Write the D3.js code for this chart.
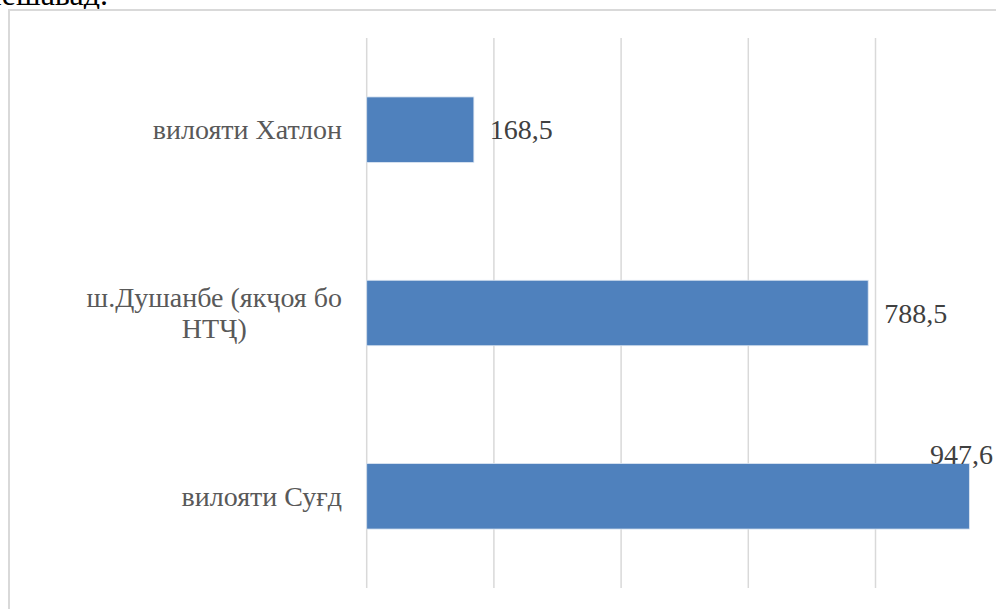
<!DOCTYPE html>
<html>
<head>
<meta charset="utf-8">
<script src="https://cdn.jsdelivr.net/npm/d3@7"></script>
<style>
  body { margin: 0; background: #fff; }
  svg { display: block; }
</style>
</head>
<body>
<div id="canvas"></div>
<script>
// data
const categories = ["вилояти Хатлон", "ш.Душанбе (якҷоя бо НТҶ)", "вилояти Суғд"];
const categoryLines = [["вилояти Хатлон"], ["ш.Душанбе (якҷоя бо", "НТҶ)"], ["вилояти Суғд"]];
const values = [168.5, 788.5, 947.6];
const valueLabels = ["168,5", "788,5", "947,6"];
const gridTicks = [0, 200, 400, 600, 800, 1000];

const svgWidth = 996;
const svgHeight = 609;
const serif = "'Times New Roman', 'Liberation Serif', 'DejaVu Serif', serif";

const svg = d3.select("#canvas").append("svg")
    .attr("width", svgWidth)
    .attr("height", svgHeight)
    .attr("font-family", serif);

// cut-off text of the page above the chart
svg.append("text")
    .attr("x", 108)
    .attr("y", 5)
    .attr("text-anchor", "end")
    .attr("font-size", 32)
    .attr("fill", "#000")
    .text("мешавад.");

// chart frame
svg.append("rect")
    .attr("x", 9)
    .attr("y", 10)
    .attr("width", 1100)
    .attr("height", 700)
    .attr("fill", "none")
    .attr("stroke", "#d9d9d9")
    .attr("stroke-width", 2);

const x = d3.scaleLinear().domain([0, 1000]).range([366.7, 1002.7]);
const y = d3.scaleBand()
    .domain(categories)
    .range([38, 588])
    .paddingInner(0.643)
    .paddingOuter(0.3215);

// gridlines
svg.append("g").selectAll("line")
    .data(gridTicks)
    .enter()
    .append("line")
    .attr("x1", d => x(d))
    .attr("x2", d => x(d))
    .attr("y1", 38)
    .attr("y2", 588)
    .attr("stroke", "#d9d9d9")
    .attr("stroke-width", 1.5);

// bars
svg.append("g").selectAll("rect")
    .data(values)
    .enter()
    .append("rect")
    .attr("x", x(0))
    .attr("y", (d, i) => y(categories[i]))
    .attr("width", d => x(d) - x(0))
    .attr("height", y.bandwidth())
    .attr("fill", "#4f81bd")
    .attr("stroke", "#dbe5f1")
    .attr("stroke-width", 0.8);

// value labels
svg.append("g").selectAll("text")
    .data(values)
    .enter()
    .append("text")
    .attr("font-size", 28)
    .attr("fill", "#404040")
    .text((d, i) => valueLabels[i])
    .each(function(d, i) {
        const t = d3.select(this);
        const w = this.getComputedTextLength();
        const mid = y(categories[i]) + y.bandwidth() / 2;
        if (x(d) + 16 + w > svgWidth) {
            // no room: pushed up over the bar end
            t.attr("x", svgWidth - 3).attr("text-anchor", "end").attr("y", y(categories[i]));
        } else {
            t.attr("x", x(d) + 16).attr("y", mid + 9.5);
        }
    });

// category labels
const labelRight = 342;
const lineH = 31.7;
categoryLines.forEach(function(lines, i) {
    const mid = y(categories[i]) + y.bandwidth() / 2;
    const g = svg.append("text")
        .attr("font-size", 28)
        .attr("fill", "#595959");
    const spans = lines.map(function(s, k) {
        return g.append("tspan").text(s)
            .attr("y", mid + 9.5 + (k - (lines.length - 1) / 2) * lineH);
    });
    const maxW = d3.max(spans, s => s.node().getComputedTextLength());
    spans.forEach(s => s.attr("x", labelRight - maxW / 2).attr("text-anchor", "middle"));
});
</script>
</body>
</html>
